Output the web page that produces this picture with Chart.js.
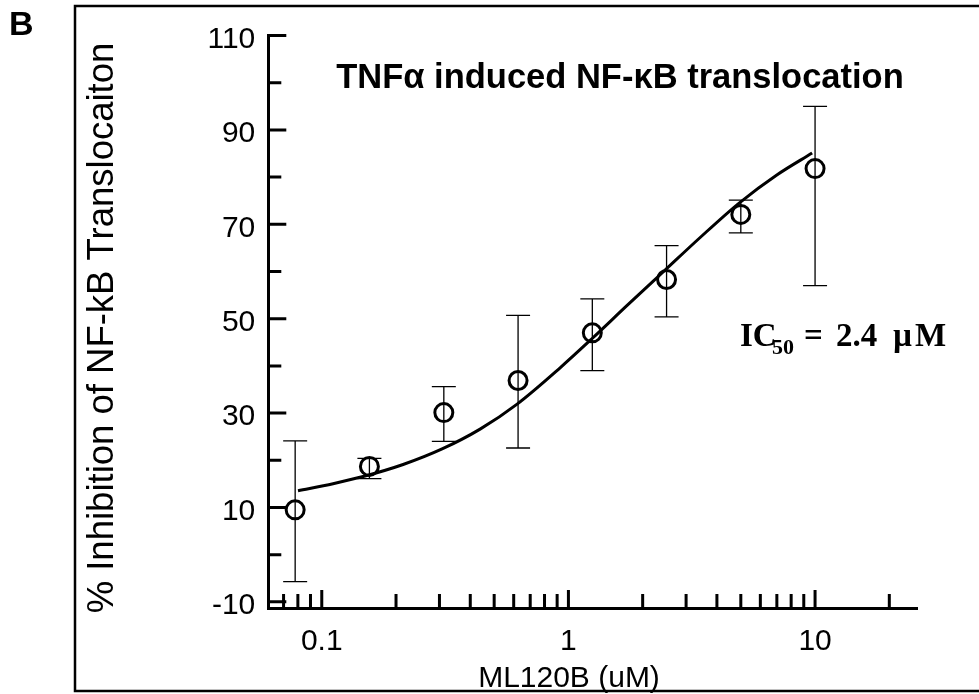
<!DOCTYPE html>
<html>
<head>
<meta charset="utf-8">
<script src="https://cdn.jsdelivr.net/npm/chart.js@4.4.1/dist/chart.umd.min.js"></script>
<style>
  html, body { margin: 0; padding: 0; background: #fff; }
</style>
</head>
<body>
<canvas id="myChart" width="979" height="694"></canvas>
<script>
// ML120B concentration (uM) and % inhibition
const conc = [0.078, 0.156, 0.3125, 0.625, 1.25, 2.5, 5, 10];
const inhibition = [9.5, 18.7, 30.1, 36.9, 47.0, 58.3, 72.1, 81.8];
const errTop = [24.1, 20.4, 35.6, 50.7, 54.2, 65.5, 75.1, 95.0];
const errBottom = [-5.7, 16.1, 24.0, 22.6, 39.0, 50.4, 68.2, 57.0];

// fitted curve
const fitConc = [0.0801, 0.1111, 0.1484, 0.2137, 0.3075, 0.4384, 0.6194, 0.9254, 1.248, 1.73, 2.444, 3.421, 4.922, 7.02, 9.73];
const fitValue = [13.55, 15.04, 16.6, 19.1, 22.4, 26.6, 31.9, 39.6, 45.8, 52.8, 60.1, 67.2, 74.5, 80.5, 85.1];

// axis ticks
const xTickLabels = [0.1, 1, 10];
const xMinorTicks = [0.07, 0.08, 0.09, 0.2, 0.3, 0.4, 0.5, 0.6, 0.7, 0.8, 0.9, 2, 3, 4, 5, 6, 7, 8, 9, 20];
const yTickLabels = [-10, 10, 30, 50, 70, 90, 110];
const yMinorTicks = [0, 20, 40, 60, 80, 100];

const SANS = '"Liberation Sans", Arial, sans-serif';
const SERIF = '"Liberation Serif", "Times New Roman", serif';

// error bars, inward ticks and all the loose text
const decorations = {
  id: 'decorations',
  beforeDatasetsDraw(chart) {
    const { ctx, scales: { x, y } } = chart;
    ctx.save();
    ctx.strokeStyle = '#000';
    ctx.lineWidth = 1.3;
    conc.forEach((c, i) => {
      const px = x.getPixelForValue(c);
      const top = y.getPixelForValue(errTop[i]);
      const bot = y.getPixelForValue(errBottom[i]);
      ctx.beginPath();
      ctx.moveTo(px, top); ctx.lineTo(px, bot);
      ctx.moveTo(px - 12, top); ctx.lineTo(px + 12, top);
      ctx.moveTo(px - 12, bot); ctx.lineTo(px + 12, bot);
      ctx.stroke();
    });
    ctx.restore();
  },
  afterDraw(chart) {
    const { ctx, chartArea, scales: { x, y } } = chart;
    ctx.save();
    ctx.strokeStyle = '#000';
    ctx.fillStyle = '#000';

    // ticks pointing into the plot
    ctx.lineWidth = 3;
    ctx.beginPath();
    xTickLabels.forEach(v => {
      const px = x.getPixelForValue(v);
      ctx.moveTo(px, chartArea.bottom); ctx.lineTo(px, chartArea.bottom - 18);
    });
    xMinorTicks.forEach(v => {
      const px = x.getPixelForValue(v);
      ctx.moveTo(px, chartArea.bottom); ctx.lineTo(px, chartArea.bottom - 14);
    });
    yTickLabels.forEach(v => {
      const py = y.getPixelForValue(v);
      ctx.moveTo(chartArea.left, py); ctx.lineTo(chartArea.left + 18, py);
    });
    yMinorTicks.forEach(v => {
      const py = y.getPixelForValue(v);
      ctx.moveTo(chartArea.left, py); ctx.lineTo(chartArea.left + 13, py);
    });
    ctx.stroke();

    // outer frame
    ctx.lineWidth = 2.5;
    ctx.strokeRect(75, 6, 1000, 685);

    // panel letter
    ctx.font = 'bold 34px ' + SANS;
    ctx.textAlign = 'left';
    ctx.textBaseline = 'alphabetic';
    ctx.fillText('B', 9, 35);

    // plot title
    ctx.font = 'bold 34.5px ' + SANS;
    ctx.textAlign = 'center';
    ctx.fillText('TNFα induced NF-κB translocation', 620, 88);

    // x axis title
    ctx.font = '30px ' + SANS;
    ctx.fillText('ML120B (uM)', 569, 687);

    // y axis title
    ctx.save();
    ctx.translate(113, 328);
    ctx.rotate(-Math.PI / 2);
    ctx.font = '36.5px ' + SANS;
    ctx.fillText('% Inhibition of NF-kB Translocaiton', 0, 0);
    ctx.restore();

    // IC50 note
    ctx.textAlign = 'left';
    ctx.font = 'bold 33px ' + SERIF;
    ctx.fillText('IC', 740, 346);
    ctx.font = 'bold 22px ' + SERIF;
    ctx.fillText('50', 772, 354);
    ctx.font = 'bold 33px ' + SERIF;
    ctx.fillText('=', 804, 346);
    ctx.fillText('2.4', 836, 346);
    ctx.fillText('µ', 893, 346);
    ctx.fillText('M', 915, 346);

    ctx.restore();
  }
};

const ctx = document.getElementById('myChart').getContext('2d');

const chart = new Chart(ctx, {
  type: 'scatter',
  data: {
    datasets: [
      {
        label: 'Mean',
        data: conc.map((c, i) => ({ x: c, y: inhibition[i] })),
        showLine: false,
        pointStyle: 'circle',
        pointRadius: 9,
        pointBorderWidth: 3,
        pointBorderColor: '#000',
        pointBackgroundColor: 'rgba(0,0,0,0)',
        clip: false,
      },
      {
        label: 'Fit',
        data: fitConc.map((c, i) => ({ x: c, y: fitValue[i] })),
        showLine: true,
        borderColor: '#000',
        borderWidth: 3,
        pointRadius: 0,
        cubicInterpolationMode: 'monotone',
        fill: false,
      },
    ],
  },
  options: {
    responsive: false,
    animation: false,
    devicePixelRatio: 1,
    layout: { padding: { left: 0, right: 62, top: 35.5, bottom: 0 } },
    plugins: {
      legend: { display: false },
      tooltip: { enabled: false },
    },
    scales: {
      x: {
        type: 'logarithmic',
        min: 0.0607,
        max: 25.9,
        afterBuildTicks: scale => { scale.ticks = xTickLabels.map(v => ({ value: v })); },
        afterFit: scale => { scale.height = 86; },
        grid: { display: false, drawTicks: false },
        border: { display: true, color: '#000', width: 3 },
        ticks: {
          autoSkip: false,
          maxRotation: 0,
          padding: 16,
          color: '#000',
          font: { family: SANS, size: 30 },
          callback: v => String(v),
        },
      },
      y: {
        type: 'linear',
        min: -11.3,
        max: 110,
        afterBuildTicks: scale => { scale.ticks = yTickLabels.map(v => ({ value: v })); },
        afterFit: scale => { scale.width = 268.3; },
        grid: { display: false, drawTicks: false },
        border: { display: true, color: '#000', width: 3 },
        ticks: {
          autoSkip: false,
          padding: 13,
          labelOffset: 4,
          color: '#000',
          font: { family: SANS, size: 30 },
          callback: v => String(v),
        },
      },
    },
  },
  plugins: [decorations],
});
</script>
</body>
</html>
